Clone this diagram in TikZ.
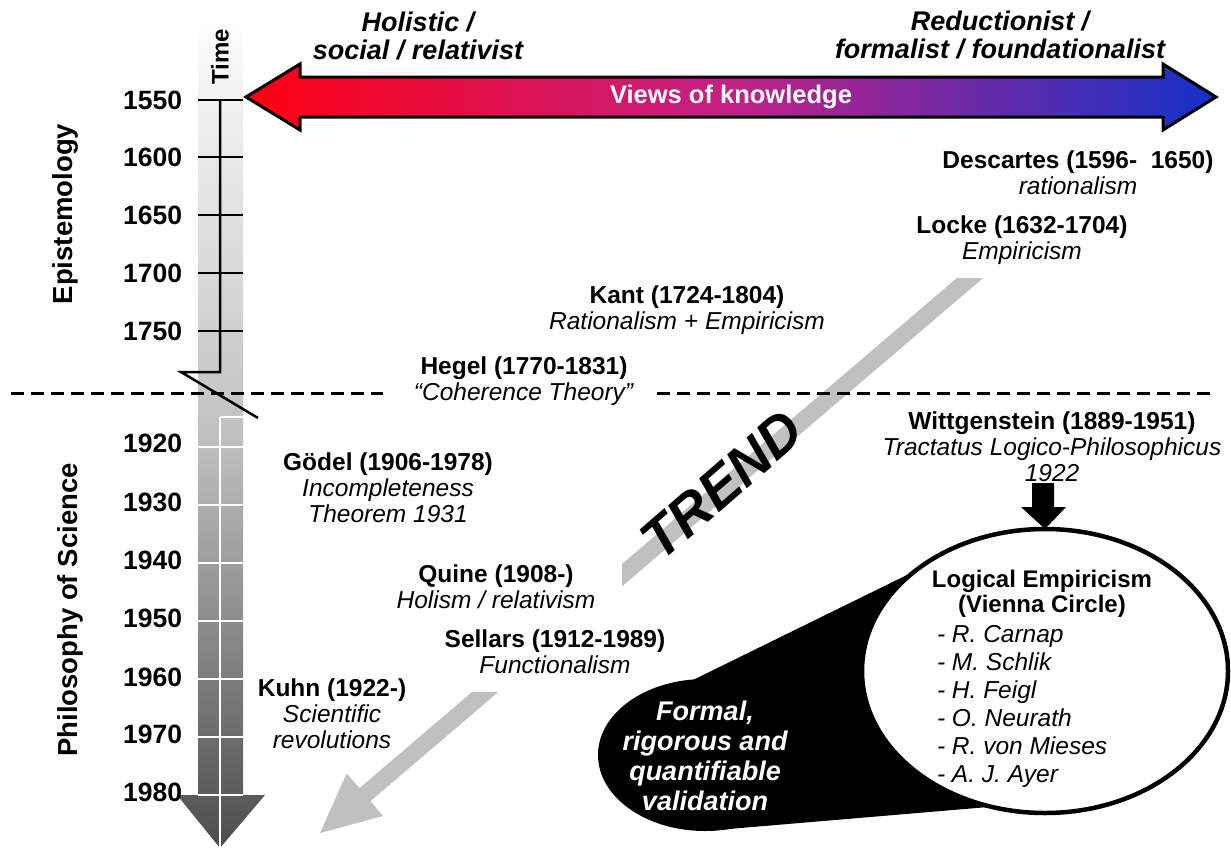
\documentclass[tikz,border=0pt]{standalone}
\usepackage{fontspec}
\setmainfont{Liberation Sans}
\usetikzlibrary{shapes.geometric}
\definecolor{arrred}{RGB}{255,0,16}
\definecolor{arrmid}{RGB}{195,33,135}
\definecolor{arrblue}{RGB}{18,50,200}
\definecolor{bartop}{RGB}{252,252,252}
\definecolor{barmid}{RGB}{192,192,192}
\definecolor{barbot}{RGB}{77,77,77}
\definecolor{trendgray}{RGB}{192,192,192}
\newcommand\fsz[2]{\fontsize{#1}{#2}\selectfont}
\begin{document}
\begin{tikzpicture}[x=1pt,y=-1pt,
  every node/.style={inner sep=0pt, outer sep=0pt},
  year/.style={anchor=east, font=\fsz{26.5}{28}\bfseries},
  side/.style={rotate=90, font=\fsz{27.5}{30}\bfseries},
  hdr/.style={align=center, font=\fsz{27}{28}\bfseries\itshape},
  who/.style={align=center, font=\fsz{24.5}{26}},
  axisline/.style={line width=2.5pt, line join=miter},
  gridline/.style={white, line width=2pt},
  divider/.style={line width=3pt, dash pattern=on 13pt off 7pt},
  bigarrow/.style={line width=3pt, line join=miter, left color=arrred, right color=arrblue, middle color=arrmid},
  circ/.style={draw, line width=4.5pt, fill=white, ellipse, minimum width=366pt, minimum height=284pt},
]
\fill[white] (0,0) rectangle (1231,849);
\useasboundingbox (0,0) rectangle (1231,849);

% time bar
\shade[top color=bartop, bottom color=barbot, middle color=barmid]
  (198,30) -- (243,30) -- (243,795) -- (265,795) -- (220,848) -- (177,795) -- (198,795) -- cycle;
\draw[gridline] (220,417) -- (220,848);
\draw[gridline] (220,417) -- (243,417);
\foreach \y in {447,505,563,621,679,737,795} \draw[gridline] (198,\y) -- (243,\y);
\draw[axisline] (220,100) -- (220,372) -- (181,372) -- (258,418);
\foreach \y in {100,157,215,273,331} \draw[axisline] (198,\y) -- (243,\y);

% year labels
\node[year] (y1550) at (182,100) {1550};
\node[year] (y1600) at (182,157) {1600};
\node[year] (y1650) at (182,215) {1650};
\node[year] (y1700) at (182,273) {1700};
\node[year] (y1750) at (182,331) {1750};
\node[year] (y1920) at (182,443) {1920};
\node[year] (y1930) at (182,502) {1930};
\node[year] (y1940) at (182,560) {1940};
\node[year] (y1950) at (182,618) {1950};
\node[year] (y1960) at (182,677) {1960};
\node[year] (y1970) at (182,734) {1970};
\node[year] (y1980) at (182,792) {1980};
\node[side] (epi) at (65,214) {Epistemology};
\node[side] (pos) at (70,610) {Philosophy of Science};
\node[rotate=90, font=\fsz{24}{26}\bfseries] (time) at (220,57) {Time};

% views of knowledge arrow
\draw[bigarrow] (246,97) -- (300,64) -- (300,77) -- (1163,77) -- (1163,64) -- (1216,97)
  -- (1163,130) -- (1163,117) -- (300,117) -- (300,130) -- cycle;
\node[white, font=\fsz{25.5}{27}\bfseries] (vok) at (731,97) {Views of knowledge};
\node[hdr] (hol) at (418,36) {Holistic /\\social / relativist};
\node[hdr] (red) at (1000,35) {Reductionist /\\formalist / foundationalist};

% trend band
\fill[trendgray] (956.9,278) -- (983.1,278) -- (370.4,801.2) -- (383.1,816.0) -- (320,833)
  -- (346.7,773.4) -- (359.4,788.2) -- cycle;
\fill[white] (380,555) rectangle (622,692);
\node[rotate=41, font=\fsz{56}{60}\bfseries\itshape] (trend) at (722,485) {TREND};

% divider
\draw[divider] (11,393) -- (383,393);
\draw[divider] (657,393) -- (1210,393);

% callout blob and circle
\fill[black] (705,755) ellipse [x radius=107, y radius=76];
\fill[black] (694,679.5) -- (913,572) -- (1000,806) -- (705,831) -- (640,800) -- cycle;
\node[circ] (le) at (1045,671) {};
\node[white, align=center, font=\fsz{27}{30}\bfseries\itshape] (fq) at (705,756)
  {Formal,\\rigorous and\\quantifiable\\validation};
\node[align=center, font=\fsz{24}{25}\bfseries] (let) at (1042,594) {Logical Empiricism\\(Vienna Circle)};
\node[align=left, anchor=west, font=\fsz{24.5}{28}\itshape] (lel) at (937,706)
  {- R. Carnap\\- M. Schlik\\- H. Feigl\\- O. Neurath\\- R. von Mieses\\- A. J. Ayer};

% people
\node[who] (desc) at (1078,173) {\textbf{Descartes (1596-~~1650)}\\\textit{rationalism}};
\node[who] (locke) at (1022,240) {\textbf{Locke (1632-1704)}\\\textit{Empiricism}};
\node[who] (kant) at (687,310) {\textbf{Kant (1724-1804)}\\\textit{Rationalism + Empiricism}};
\node[who] (hegel) at (524,381) {\textbf{Hegel (1770-1831)}\\\textit{“Coherence Theory”}};
\node[who] (witt) at (1052,447) {\textbf{Wittgenstein (1889-1951)}\\\textit{Tractatus Logico-Philosophicus}\\\textit{1922}};
\node[who] (godel) at (388,488) {\textbf{Gödel (1906-1978)}\\\textit{Incompleteness}\\\textit{Theorem 1931}};
\node[who] (quine) at (496,587) {\textbf{Quine (1908-)}\\\textit{Holism / relativism}};
\node[who] (sellars) at (555,652) {\textbf{Sellars (1912-1989)}\\\textit{Functionalism}};
\node[who] (kuhn) at (332,714) {\textbf{Kuhn (1922-)}\\\textit{Scientific}\\\textit{revolutions}};

% wittgenstein block arrow
\coordinate (wa) at (1043,483);
\fill (wa) ++(-11,0) -- ++(22,0) -- ++(0,24) -- ++(12,0) -- (le.north) -- (1021,507) -- (1032,507) -- cycle;
\end{tikzpicture}
\end{document}
